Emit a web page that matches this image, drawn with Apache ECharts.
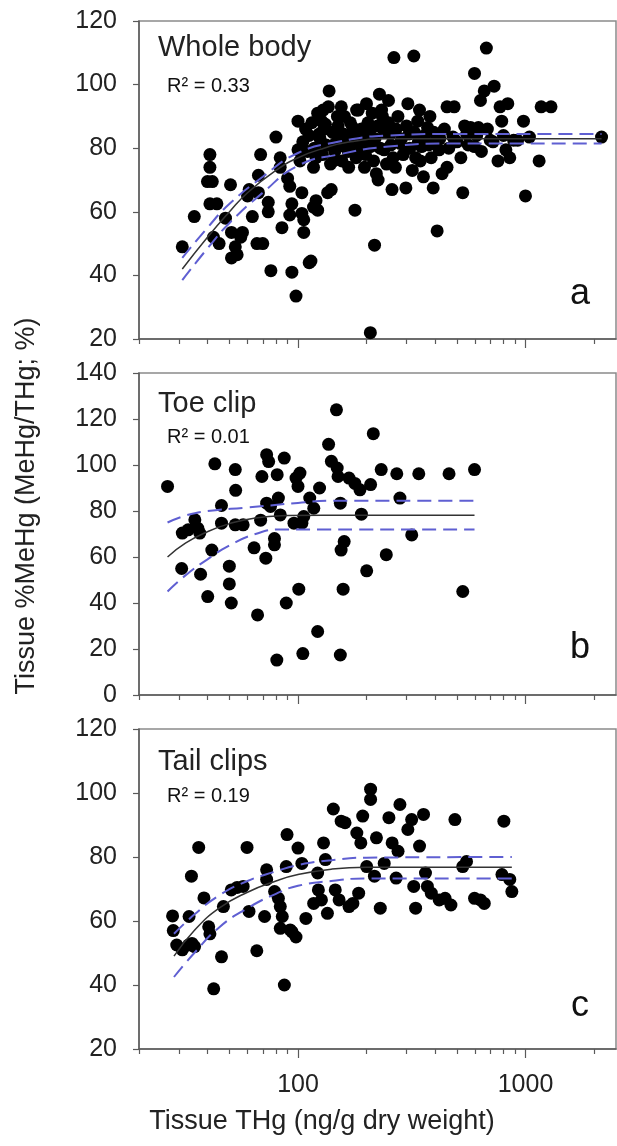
<!DOCTYPE html>
<html>
<head>
<meta charset="utf-8">
<style>
  html, body { margin: 0; padding: 0; background: #fff; }
  #chart { width: 617px; height: 1146px; }
</style>
<script src="https://cdn.jsdelivr.net/npm/echarts@6/dist/echarts.min.js"></script>
</head>
<body>
<div id="chart"></div>
<script>
// THg (ng/g dw) vs %MeHg
const wholeBody = [
  [31,49],[35,58.5],[41,78],[41,74],[40,69.5],[42,69.5],[41,62.5],[44,62.5],[42.5,52],[45,50],
  [48,58],[50.5,68.5],[51,53.5],[53,49],[51,45.5],[54,46.5],[57,53.5],[56,52],[60,65],[61,67],
  [63,58.5],[67,71.5],[68.5,78],[67,66],[66,50],[70,50],[74,63],[74,60],[76,41.5],[80,83.5],
  [83.5,77],[83.5,74],[85,55],[90,70.5],[92,68],[92,59],[94,62.5],[94,41],[98,33.5],[100,88.5],
  [100,79.5],[102,76],[104,66],[104,59.5],[106,53.5],[106,57.5],[112,44],[114,44.5],[117,74],[117,61.5],
  [120,63.5],[122,60.5],[124,84.5],[127,88.5],[129,92],[132,87.5],[135,66],[137,98],[140,67],[143,76],
  [146,81.5],[149,90],[155,93],[158,84.5],[161,80.5],[167,74],[174,86.5],[178,60.5],[181,92],[189,82.5],
  [196,74],[200,94],[208,80.5],[208,22],[217,49.5],[221,72],[225,70],[228,97],[235,90],[239,79.5],
  [250,95],[254,84.5],[259,67],[264,108.5],[268,74],[281,81.5],[298,67.5],[304,94],[308,84.5],[323,109],
  [329,77],[336,88.5],[342,92],[349,80.5],[356,71],[371,86.5],[385,77],[393,67.5],[401,81.5],[409,54],
  [417,79.5],[452,74],[452,93],[480,83.5],[486,93],[520,77],[530,66],[551,84.5],[574,86.5],[597,80.5],
  [597,103.5],[621,86.5],[634,95],[659,98],[673,111.5],[700,82.5],[728,99.5],[757,76],[773,93],[786,88.5],
  [820,79.5],[836,94],[853,77],[887,82.5],[924,82.5],[980,88.5],[1000,65],[1041,83.5],[1148,76],[1172,93],
  [1295,93],[2160,83.5],
  // dense middle of the cloud
  [105,82],[108,86],[110,79],[112,84],[115,88],[118,80],[120,77],[122,91],[125,83],[128,78],
  [130,86],[133,81],[136,93],[139,75],[142,85],[145,79],[150,87],[152,82],[156,76],[160,90],
  [163,84],[166,79],[170,88],[172,81],[176,85],[180,77],[184,92],[186,80],[190,86],[194,83],
  [198,78],[203,88],[206,85],[212,91],[215,76],[218,83],[224,87],[230,80],[233,92],[240,85],
  [245,75],[250,88],[256,81],[262,77],[270,86],[275,90],[285,83],[290,78],[300,87],[310,80],
  [318,73],[325,85],[338,82],[345,76],[360,84],[375,81],[380,90],[395,85],[420,83],[430,72],
  [440,86],[460,80],[500,82],[540,87],[560,81],[610,84],[640,79],[680,86],[720,82],[800,84]
];
const toeClip = [
  [26.7,90.7],[31,70.4],[30.8,55],[32.9,71.8],[35.2,76.2],[36.3,72.5],[37,70.4],[37.3,52.5],[40.1,42.8],[41.8,63],
  [43.1,100.5],[46.1,82.4],[46.1,74.7],[49.9,56],[49.9,48.3],[50.9,40],[53,98],[53.2,89],[53,74],[57.4,74],
  [64.1,64],[66.4,34.8],[68.5,76],[69.4,95],[72.2,59.5],[72.8,104.5],[74.3,101.5],[72.8,83.4],[75.7,82],[78.8,68],
  [78.8,65.3],[80.7,15.2],[81,95.8],[82,85.6],[83.6,78.3],[87,103],[88.8,40],[96,74.7],[98,94.3],[100,90.7],
  [100.8,46],[102,96.5],[104,74.7],[106,77.6],[105,18],[112.6,85.6],[117.3,81.2],[122,27.6],[124.4,90],[136.3,109],
  [140.2,101.6],[147.6,124],[148.7,98.7],[150,95],[153.5,83.4],[154.7,63],[159.6,66.7],[153.5,17.4],[157.9,46],[167.6,94.3],
  [177.8,92],[187.2,89.2],[190,78.6],[200.4,54],[208.5,91.5],[214.3,113.6],[232.2,98],[244.4,61],[271.8,96.2],[280.6,85.6],
  [316.2,69.6],[339.6,96.2],[461.3,96.2],[530,45],[597,98]
];
const tailClips = [
  [28.1,61.6],[28.3,57],[29.3,52.5],[31,51],[33.2,61.4],[33,52.5],[34.2,53],[35.1,52],[34,74],[36.6,83],
  [38.6,67.2],[40.5,58.2],[41,56],[42.6,38.8],[46.1,48.8],[47,64.5],[50.9,69.7],[54,70.5],[57.4,70.8],[59.7,83],
  [60.9,63],[65.9,50.7],[71.3,61.4],[72.8,76],[72.8,73],[78.9,69.2],[82,67.1],[83.6,64.5],[85.3,61.4],[83.6,57.7],
  [87.1,40],[89.5,87],[88.8,77],[92.4,57.2],[94.2,56.6],[98,55],[100,82.8],[104,78],[108.3,60.8],[117.2,65.5],
  [122,75],[122.9,69.7],[126.8,66.6],[129.5,84.4],[132,79.2],[134.7,62.4],[143,95],[145.8,69.7],[151.6,66.6],[154.8,91.2],
  [161,90.7],[167.6,64.5],[174.3,65.5],[184.8,68.7],[181.4,87.5],[192.5,92.8],[188.9,84.4],[200.4,77],[208.5,101.2],[208.5,98],
  [216.8,74],[221.2,86],[230,64],[239.3,78],[251,92.3],[259.3,84.4],[270,73.4],[275.3,81.8],[280.6,96.4],[304,88.6],
  [316,91.7],[322.7,70.8],[328.9,64],[342.2,83.4],[356.3,93.3],[363.4,75],[370.6,70.8],[385.5,68.7],[417.6,66.6],[443.2,67.1],
  [470.2,65],[489.6,91.7],[529.8,77],[550.6,78.6],[597,67.1],[634,66.6],[659,65.5],[803.5,91.2],[788,74.5],[853,73],
  [871,69.2]
];

// fitted curves and confidence bands
const wholeFit = [[31,42],[40,52],[50,60],[60,66],[80,73],[100,77],[130,80],[170,82],[250,83],[400,83],[2160,83]];
const wholeUp = [[31,45.5],[40,55],[50,62.5],[70,71],[100,78.5],[150,82],[250,84],[500,84.5],[2160,84.5]];
const wholeLo = [[31,38.5],[40,48.5],[50,56.5],[70,66],[100,74.5],[150,78],[250,80.5],[500,81.5],[2160,81.5]];
const toeFit = [[26.7,60],[32,66],[40,71],[50,74.5],[65,77],[90,78],[130,78.2],[597,78.2]];
const toeUp = [[26.7,75],[32,78],[40,80],[60,81.5],[100,83.5],[140,84.5],[597,84.5]];
const toeLo = [[26.7,45],[32,52],[40,59],[50,65],[65,70],[85,72],[597,72]];
const tailFit = [[28.5,49],[35,57],[45,64],[60,69],[80,72.5],[100,74.5],[140,76.2],[200,76.8],[871,76.8]];
const tailUp = [[28.5,56],[35,62],[45,68],[60,72.5],[80,75.5],[100,77.5],[140,79],[200,79.8],[871,80]];
const tailLo = [[28.5,42.5],[35,50],[45,58],[60,64],[80,68.5],[100,71],[140,72.5],[200,73.3],[871,73.3]];

const minorTicks = [20,30,40,50,60,70,80,90,200,300,400,500,600,700,800,900,2000];
const majorTicks = [100, 1000];

const FONT = '"Liberation Sans", Arial, sans-serif';
const AXIS_COLOR = '#5a5a5a';

const panels = [
  { top: 21, height: 318, min: 20, max: 120, pts: wholeBody, fit: wholeFit, up: wholeUp, lo: wholeLo,
    title: 'Whole body', r2: 'R² = 0.33', letter: 'a', titleY: 48, r2Y: 86, letterY: 294 },
  { top: 373, height: 322, min: 0, max: 140, pts: toeClip, fit: toeFit, up: toeUp, lo: toeLo,
    title: 'Toe clip', r2: 'R² = 0.01', letter: 'b', titleY: 404, r2Y: 437, letterY: 648 },
  { top: 729, height: 320, min: 20, max: 120, pts: tailClips, fit: tailFit, up: tailUp, lo: tailLo,
    title: 'Tail clips', r2: 'R² = 0.19', letter: 'c', titleY: 762, r2Y: 796, letterY: 1006 }
];

const grid = [], xAxis = [], yAxis = [], series = [], graphic = [];

panels.forEach((p, i) => {
  const last = i === panels.length - 1;
  grid.push({ left: 139, right: 1, top: p.top, height: p.height,
    show: true, borderColor: '#8a8a8a', borderWidth: 1.5 });
  // axis carrying the short ticks
  xAxis.push({
    type: 'log', gridIndex: i, min: 20, max: 2500, logBase: 10,
    axisLine: { show: true, lineStyle: { color: AXIS_COLOR, width: 1.5 } },
    axisTick: { show: true, length: 5, customValues: minorTicks, lineStyle: { color: AXIS_COLOR, width: 1.2 } },
    axisLabel: { show: false },
    splitLine: { show: false }
  });
  // overlay axis for the longer decade ticks (+ labels on the bottom panel)
  xAxis.push({
    type: 'log', gridIndex: i, min: 20, max: 2500, logBase: 10, position: 'bottom',
    axisLine: { show: false },
    axisTick: { show: true, length: 9, customValues: majorTicks, lineStyle: { color: AXIS_COLOR, width: 1.2 } },
    axisLabel: {
      show: last, customValues: majorTicks, margin: 24,
      fontFamily: FONT, fontSize: 25, color: '#222',
      formatter: v => String(Math.round(v))
    },
    splitLine: { show: false }
  });
  yAxis.push({
    type: 'value', gridIndex: i, min: p.min, max: p.max, interval: 20,
    axisLine: { show: true, lineStyle: { color: AXIS_COLOR, width: 1.5 } },
    axisTick: { show: true, length: 6, lineStyle: { color: AXIS_COLOR, width: 1.2 } },
    axisLabel: { margin: 22, fontFamily: FONT, fontSize: 25, color: '#222' },
    splitLine: { show: false }
  });

  series.push({
    type: 'scatter', xAxisIndex: i * 2, yAxisIndex: i, data: p.pts,
    symbol: 'circle', symbolSize: 13, itemStyle: { color: '#000', opacity: 1 }, z: 2
  });
  const band = {
    type: 'line', xAxisIndex: i * 2, yAxisIndex: i, smooth: true, showSymbol: false,
    lineStyle: { color: '#5f5fd2', width: 2, type: [14, 7] }, z: 4, silent: true
  };
  series.push(Object.assign({}, band, { data: p.up }));
  series.push(Object.assign({}, band, { data: p.lo }));
  series.push({
    type: 'line', xAxisIndex: i * 2, yAxisIndex: i, smooth: true, showSymbol: false,
    data: p.fit, lineStyle: { color: '#333', width: 1.5 }, z: 5, silent: true
  });

  graphic.push({ type: 'text', x: 158, y: p.titleY,
    style: { text: p.title, font: '29px ' + FONT, fill: '#222', textVerticalAlign: 'middle' } });
  graphic.push({ type: 'text', x: 167, y: p.r2Y,
    style: { text: p.r2, font: '20px ' + FONT, fill: '#111', textVerticalAlign: 'middle' } });
  graphic.push({ type: 'text', x: 580, y: p.letterY,
    style: { text: p.letter, font: '36px ' + FONT, fill: '#111', textAlign: 'center', textVerticalAlign: 'middle' } });
});

graphic.push({ type: 'text', x: 27, y: 506, rotation: Math.PI / 2,
  style: { text: 'Tissue %MeHg (MeHg/THg; %)', font: '27px ' + FONT, fill: '#222',
    textAlign: 'center', textVerticalAlign: 'middle' } });
graphic.push({ type: 'text', x: 322, y: 1122,
  style: { text: 'Tissue THg (ng/g dry weight)', font: '27px ' + FONT, fill: '#222',
    textAlign: 'center', textVerticalAlign: 'middle' } });

const chart = echarts.init(document.getElementById('chart'));
chart.setOption({
  animation: false,
  backgroundColor: '#fff',
  grid, xAxis, yAxis, series, graphic
});
</script>
</body>
</html>
